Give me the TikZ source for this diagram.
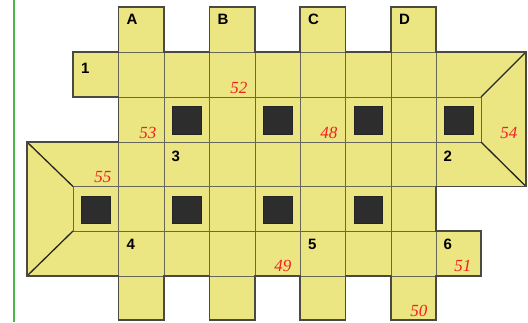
\documentclass[tikz,border=0pt]{standalone}
\usepackage{fontspec}
\setmainfont{Liberation Serif}
\newfontfamily\labfont{Liberation Sans}
\definecolor{cellyellow}{HTML}{EBE681}
\definecolor{outerline}{HTML}{4A4A40}
\definecolor{innerline}{HTML}{66665A}
\definecolor{darksq}{HTML}{2D2D2D}
\definecolor{greenline}{HTML}{4CB848}
\definecolor{redlab}{HTML}{F02020}
\tikzset{
  outerstyle/.style={draw=outerline, line width=1.7pt, line join=miter},
  innerstyle/.style={draw=innerline, line width=0.9pt},
  diagstyle/.style={draw=black!85, line width=1.3pt},
  sqstyle/.style={fill=darksq, draw=darksq!80!black, line width=0.6pt},
  blacklab/.style={font=\labfont\bfseries\fontsize{15}{16}\selectfont, inner sep=0pt, anchor=base west},
  redlabel/.style={font=\itshape\fontsize{17}{18}\selectfont, text=redlab, inner sep=0pt, anchor=base east}
}
\begin{document}
\begin{tikzpicture}[x=1pt,y=-1pt]
\useasboundingbox (0,0) rectangle (528,322);
% green rule
\draw[greenline, line width=1.8pt] (14,0) -- (14,322);
% outer shape fill
\path[fill=cellyellow] (73,52) -- (118.5,52) -- (118.5,7) -- (164,7) -- (164,52) -- (209.5,52) -- (209.5,7) -- (255,7) -- (255,52) -- (300,52) -- (300,7) -- (345.5,7) -- (345.5,52) -- (391,52) -- (391,7) -- (436,7) -- (436,52) -- (526,52) -- (526,186.5) -- (436,186.5) -- (436,231) -- (481,231) -- (481,276) -- (436,276) -- (436,320) -- (391,320) -- (391,276) -- (345.5,276) -- (345.5,320) -- (300,320) -- (300,276) -- (255,276) -- (255,320) -- (209.5,320) -- (209.5,276) -- (164,276) -- (164,320) -- (118.5,320) -- (118.5,276) -- (27,276) -- (27,142) -- (118.5,142) -- (118.5,97) -- (73,97) -- cycle;
% inner grid lines
\foreach \x in {118.5,164,209.5,255,300,345.5,391,436} {
  \draw[innerstyle] (\x,52) -- (\x,276);
}
\draw[innerstyle] (481,97) -- (481,142);
\draw[innerstyle] (73,186.5) -- (73,231);
\draw[innerstyle] (118.5,52) -- (436,52);
\draw[innerstyle] (118.5,97) -- (481,97);
\draw[innerstyle] (118.5,142) -- (481,142);
\draw[innerstyle] (73,186.5) -- (436,186.5);
\draw[innerstyle] (73,231) -- (436,231);
\draw[innerstyle] (118.5,276) -- (436,276);
% diagonals
\draw[diagstyle] (27,142) -- (73,186.5);
\draw[diagstyle] (27,276) -- (73,231);
\draw[diagstyle] (526,52) -- (481,97);
\draw[diagstyle] (526,186.5) -- (481,142);
% outer outline
\draw[outerstyle] (73,52) -- (118.5,52) -- (118.5,7) -- (164,7) -- (164,52) -- (209.5,52) -- (209.5,7) -- (255,7) -- (255,52) -- (300,52) -- (300,7) -- (345.5,7) -- (345.5,52) -- (391,52) -- (391,7) -- (436,7) -- (436,52) -- (526,52) -- (526,186.5) -- (436,186.5) -- (436,231) -- (481,231) -- (481,276) -- (436,276) -- (436,320) -- (391,320) -- (391,276) -- (345.5,276) -- (345.5,320) -- (300,320) -- (300,276) -- (255,276) -- (255,320) -- (209.5,320) -- (209.5,276) -- (164,276) -- (164,320) -- (118.5,320) -- (118.5,276) -- (27,276) -- (27,142) -- (118.5,142) -- (118.5,97) -- (73,97) -- cycle;
% dark squares
\foreach \x/\y in {164/97,255/97,345.5/97,436/97,73/186.5,164/186.5,255/186.5,345.5/186.5} {
  \path[sqstyle] (\x+8.5,\y+9.5) rectangle (\x+37,\y+37);
}
% black labels
\node[blacklab] (lA) at (126.5,24.5) {A};
\node[blacklab] (lB) at (217.5,24.5) {B};
\node[blacklab] (lC) at (308,24.5) {C};
\node[blacklab] (lD) at (399,24.5) {D};
\node[blacklab] (l1) at (81,73) {1};
\node[blacklab] (l3) at (171.5,161) {3};
\node[blacklab] (l2) at (443.5,161) {2};
\node[blacklab] (l4) at (126.5,249.5) {4};
\node[blacklab] (l5) at (308,249.5) {5};
\node[blacklab] (l6) at (443.5,249.5) {6};
% red labels
\node[redlabel] (r52) at (247.5,93.5) {52};
\node[redlabel] (r53) at (156.5,138) {53};
\node[redlabel] (r48) at (337.5,138) {48};
\node[redlabel] (r54) at (517.5,138) {54};
\node[redlabel] (r55) at (111.5,182.5) {55};
\node[redlabel] (r49) at (291.5,271) {49};
\node[redlabel] (r51) at (471.5,271) {51};
\node[redlabel] (r50) at (427.5,316) {50};
\end{tikzpicture}
\end{document}
